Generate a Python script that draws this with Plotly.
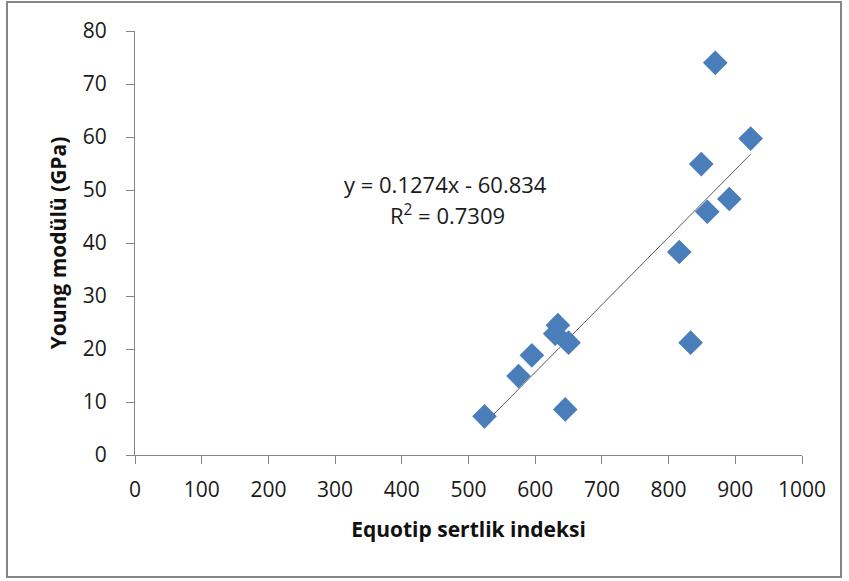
import plotly.graph_objects as go
import numpy as np

equotip = [524, 575, 595, 630, 634, 650, 645, 833, 870, 923, 849, 891, 858, 816]
young = [7.3, 14.9, 18.8, 22.9, 24.5, 21.2, 8.6, 21.2, 74.0, 59.7, 54.9, 48.3, 45.9, 38.3]
slope = 0.1274
intercept = -60.834
r2 = 0.7309

W, H = 849, 581
L, R, T, B = 135, 802, 31, 455

fig = go.Figure()
xs = np.array([min(equotip), max(equotip)])
fig.add_trace(go.Scatter(x=xs, y=slope * xs + intercept, mode="lines",
                         line=dict(color="#5a5a5a", width=1), showlegend=False, hoverinfo="skip"))
fig.add_trace(go.Scatter(x=equotip, y=young, mode="markers",
                         marker=dict(symbol="diamond", size=19, color="#4a7ebb",
                                     line=dict(color="#4a7ebb", width=0)),
                         showlegend=False))

font = "Open Sans, Liberation Sans, sans-serif"
axis_common = dict(showgrid=False, zeroline=False, showline=True, linecolor="#868686", linewidth=1,
                   ticks="outside", tickcolor="#868686", ticklen=8,
                   tickfont=dict(family=font, size=21, color="#1a1a1a"))
fig.update_xaxes(range=[0, 1000], dtick=100, ticklabelstandoff=8, **axis_common,
                 title=dict(text="<b>Equotip sertlik indeksi</b>", font=dict(family=font, size=21, color="#111111"), standoff=20))
fig.update_yaxes(range=[0, 80], dtick=10, ticklabelstandoff=15, **axis_common,
                 title=dict(text="<b>Young modülü (GPa)</b>", font=dict(family=font, size=21, color="#111111"), standoff=10))

fig.add_annotation(x=(445 - L) / (R - L) * 1000, y=(B - 184) / (B - T) * 80,
                   text=f"y = {slope}x - {abs(intercept)}", showarrow=False,
                   font=dict(family=font, size=22, color="#1a1a1a"))
fig.add_annotation(x=(447 - L) / (R - L) * 1000, y=(B - 214) / (B - T) * 80,
                   text=f"R<sup>2</sup> = {r2}", showarrow=False,
                   font=dict(family=font, size=22, color="#1a1a1a"))

fig.add_shape(type="rect", xref="paper", yref="paper",
              x0=(7 - L) / (R - L), x1=(841 - L) / (R - L),
              y0=(B - 577) / (B - T), y1=(B - 2) / (B - T),
              line=dict(color="#868686", width=2), layer="below")

fig.update_layout(width=W, height=H, plot_bgcolor="white", paper_bgcolor="white",
                  margin=dict(l=L, r=W - R, t=T, b=H - B, autoexpand=False))
fig.write_html("out.html", config={"displayModeBar": False},
               post_script="document.body.style.margin='0px';document.body.style.overflow='hidden';")
